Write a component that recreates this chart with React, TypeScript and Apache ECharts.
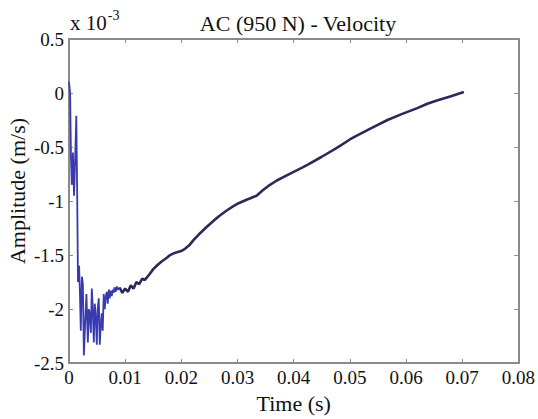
import React, { useEffect, useRef } from "react";
import * as echarts from "echarts";

const timeEarly = [0, 0.0002, 0.00035, 0.0005, 0.0007, 0.0009, 0.0011, 0.0013, 0.00145, 0.0016, 0.0018, 0.00195, 0.0021, 0.0023, 0.00247, 0.00265, 0.0029, 0.0031, 0.00336, 0.00353, 0.0037, 0.00389, 0.00406, 0.0042, 0.00442, 0.00459, 0.0048, 0.00495, 0.0051, 0.0053, 0.00548, 0.0056, 0.00583, 0.006, 0.00618, 0.00636, 0.0065, 0.00671, 0.00689, 0.0071, 0.00724, 0.0074, 0.0076, 0.0078, 0.00795, 0.0081, 0.0083, 0.0085, 0.00866, 0.009];
const velEarly = [0.1, 0.0, -0.6, -0.85, -0.55, -0.95, -0.6, -0.21, -0.9, -1.75, -1.6, -1.86, -2.2, -1.7, -1.77, -2.43, -2.1, -1.86, -2.31, -2.0, -2.04, -2.22, -1.81, -1.95, -2.31, -1.95, -2.1, -2.33, -2.0, -1.9, -2.33, -2.2, -2.04, -2.2, -1.86, -2.0, -1.9, -1.84, -1.95, -1.82, -1.9, -1.83, -1.88, -1.82, -1.85, -1.8, -1.84, -1.79, -1.82, -1.8];

const timeLate = [0.009, 0.0095, 0.01, 0.0105, 0.011, 0.0115, 0.012, 0.0125, 0.013, 0.0135, 0.0143, 0.015, 0.0158, 0.0165, 0.0173, 0.018, 0.0188, 0.0195, 0.0201, 0.0207, 0.0214, 0.0222, 0.0231, 0.0245, 0.0258, 0.0267, 0.028, 0.0292, 0.0302, 0.0315, 0.0325, 0.0334, 0.0345, 0.0355, 0.037, 0.0385, 0.04, 0.0415, 0.0426, 0.045, 0.0479, 0.05, 0.0514, 0.054, 0.0567, 0.059, 0.062, 0.0638, 0.0655, 0.068, 0.0703];
const velLate = [-1.8, -1.85, -1.81, -1.84, -1.78, -1.81, -1.75, -1.77, -1.72, -1.73, -1.68, -1.63, -1.59, -1.56, -1.53, -1.5, -1.48, -1.47, -1.46, -1.44, -1.41, -1.36, -1.31, -1.24, -1.18, -1.14, -1.09, -1.05, -1.02, -0.99, -0.97, -0.95, -0.9, -0.86, -0.81, -0.77, -0.73, -0.69, -0.66, -0.59, -0.5, -0.43, -0.39, -0.32, -0.25, -0.2, -0.14, -0.1, -0.07, -0.03, 0.01];

const titleText = "AC (950 N) - Velocity";
const xName = "Time (s)";
const yName = "Amplitude (m/s)";

const FONT = "Times New Roman, Liberation Serif, DejaVu Serif, serif";
const AXIS_COLOR = "#8a8a8a";

export default function App() {
  const ref = useRef<HTMLDivElement>(null);
  useEffect(() => {
    if (!ref.current) return;
    const chart = echarts.init(ref.current, undefined, { renderer: "svg" });
    const early = timeEarly.map((t, i) => [t, velEarly[i]]);
    const late = timeLate.map((t, i) => [t, velLate[i]]);
    const grid = { left: 69, top: 39, right: 16, bottom: 48 };
    const tick = { show: true, inside: true, length: 4, lineStyle: { color: AXIS_COLOR } };
    const line = { show: true, onZero: false, lineStyle: { color: AXIS_COLOR, width: 2 } };
    chart.setOption({
      animation: false,
      backgroundColor: "#ffffff",
      textStyle: { fontFamily: FONT },
      title: {
        text: titleText,
        left: 293,
        textAlign: "center",
        top: 7,
        textStyle: { fontFamily: FONT, fontSize: 22, fontWeight: "normal", color: "#111" },
      },
      graphic: [
        {
          type: "text",
          left: 70,
          top: 8,
          style: {
            text: "{a|x 10}{b|-3}",
            rich: {
              a: { fontFamily: FONT, fontSize: 21, fill: "#111", padding: [8, 0, 0, 0] },
              b: { fontFamily: FONT, fontSize: 14, fill: "#111", padding: [0, 0, 8, 1] },
            },
          },
        },
        {
          type: "text",
          x: 17,
          y: 191,
          rotation: Math.PI / 2,
          style: {
            text: yName,
            fontFamily: FONT,
            fontSize: 22,
            fill: "#111",
            align: "center",
            verticalAlign: "middle",
          },
        },
      ],
      grid,
      xAxis: [
        {
          type: "value",
          position: "bottom",
          min: 0,
          max: 0.08,
          interval: 0.01,
          name: xName,
          nameLocation: "middle",
          nameGap: 24,
          nameTextStyle: { fontFamily: FONT, fontSize: 22, color: "#111" },
          axisLine: line,
          axisTick: tick,
          axisLabel: {
            fontFamily: FONT,
            fontSize: 19,
            color: "#111",
            margin: 5,
            formatter: (v: number) => (v === 0 ? "0" : v.toFixed(2)),
          },
          splitLine: { show: false },
        },
        {
          type: "value",
          position: "top",
          min: 0,
          max: 0.08,
          interval: 0.01,
          axisLine: line,
          axisTick: tick,
          axisLabel: { show: false },
          splitLine: { show: false },
        },
      ],
      yAxis: [
        {
          type: "value",
          position: "left",
          min: -2.5,
          max: 0.5,
          interval: 0.5,
          axisLine: line,
          axisTick: tick,
          axisLabel: {
            fontFamily: FONT,
            fontSize: 19,
            color: "#111",
            margin: 5,
            formatter: (v: number) => String(Math.round(v * 10) / 10),
          },
          splitLine: { show: false },
        },
        {
          type: "value",
          position: "right",
          min: -2.5,
          max: 0.5,
          interval: 0.5,
          axisLine: line,
          axisTick: tick,
          axisLabel: { show: false },
          splitLine: { show: false },
        },
      ],
      series: [
        {
          type: "line",
          data: early,
          xAxisIndex: 0,
          yAxisIndex: 0,
          showSymbol: false,
          lineStyle: { color: "#3a3ab0", width: 1.8 },
        },
        {
          type: "line",
          data: late,
          xAxisIndex: 0,
          yAxisIndex: 0,
          showSymbol: false,
          lineStyle: { color: "#2a2a58", width: 2.6 },
        },
      ],
    });
    return () => chart.dispose();
  }, []);
  return (
    <div
      ref={ref}
      style={{ position: "fixed", left: 0, top: 0, width: 538, height: 419, background: "#fff" }}
    />
  );
}
